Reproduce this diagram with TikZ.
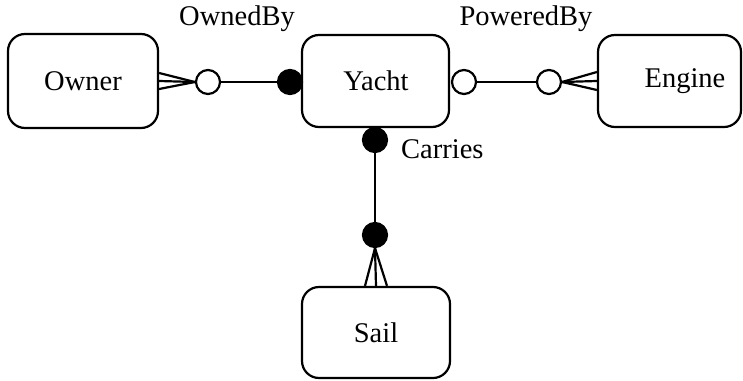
\documentclass[tikz,border=0pt]{standalone}
\usepackage{fontspec}
\setmainfont{Liberation Serif}
\begin{document}
\begin{tikzpicture}[x=1pt,y=-1pt,
  every node/.style={font=\fontsize{28.5}{33}\selectfont},
  entity/.style={draw,line width=2.2pt,rounded corners=17pt,inner sep=0pt},
  opencirc/.style={draw,circle,line width=2.2pt,fill=white,minimum size=24pt,inner sep=0pt},
  fullcirc/.style={draw,circle,line width=2.2pt,fill=black,minimum size=24pt,inner sep=0pt},
  link/.style={line width=2.2pt},
  lbl/.style={inner sep=0pt}]
\useasboundingbox (0,0) rectangle (743,380);
% entities
\node[entity,minimum width=150pt,minimum height=94pt] (owner) at (83,81) {};
\node[lbl] (ownert) at (83,81) {Owner};
\node[entity,minimum width=147pt,minimum height=92pt] (yacht) at (375.5,81) {};
\node[lbl] (yachtt) at (376,81) {Yacht};
\node[entity,minimum width=143pt,minimum height=92pt] (engine) at (669.5,81) {};
\node[lbl] (enginet) at (685,81) {Engine};
\node[entity,minimum width=148pt,minimum height=91pt] (sail) at (376,332.5) {};
\node[lbl] (sailt) at (376,333) {Sail};
% circles
\node[opencirc] (c1) at (208,82) {};
\node[fullcirc] (c2) at (290,82) {};
\node[opencirc] (c3) at (464,82) {};
\node[opencirc] (c4) at (549,82) {};
\node[fullcirc] (c5) at (375,140) {};
\node[fullcirc] (c6) at (375,235) {};
% connectors
\draw[link] (c1.east) -- (c2.west);
\draw[link] (c3.east) -- (c4.west);
\draw[link] (c5.south) -- (c6.north);
% crow's feet
\draw[link] (c1.west) -- ([yshift=-8pt]owner.east);
\draw[link] (c1.west) -- (owner.east);
\draw[link] (c1.west) -- ([yshift=8pt]owner.east);
\draw[link] (c4.east) -- ([yshift=-9pt]engine.west);
\draw[link] (c4.east) -- (engine.west);
\draw[link] (c4.east) -- ([yshift=9pt]engine.west);
\draw[link] (c6.south) -- ([xshift=-11pt]sail.north);
\draw[link] (c6.south) -- (sail.north);
\draw[link] (c6.south) -- ([xshift=11pt]sail.north);
% labels
\node[lbl,anchor=base] (owned) at (237,25) {OwnedBy};
\node[lbl,anchor=base] (powered) at (526,25) {PoweredBy};
\node[lbl,anchor=base west] (carries) at (401,158) {Carries};
\end{tikzpicture}
\end{document}
